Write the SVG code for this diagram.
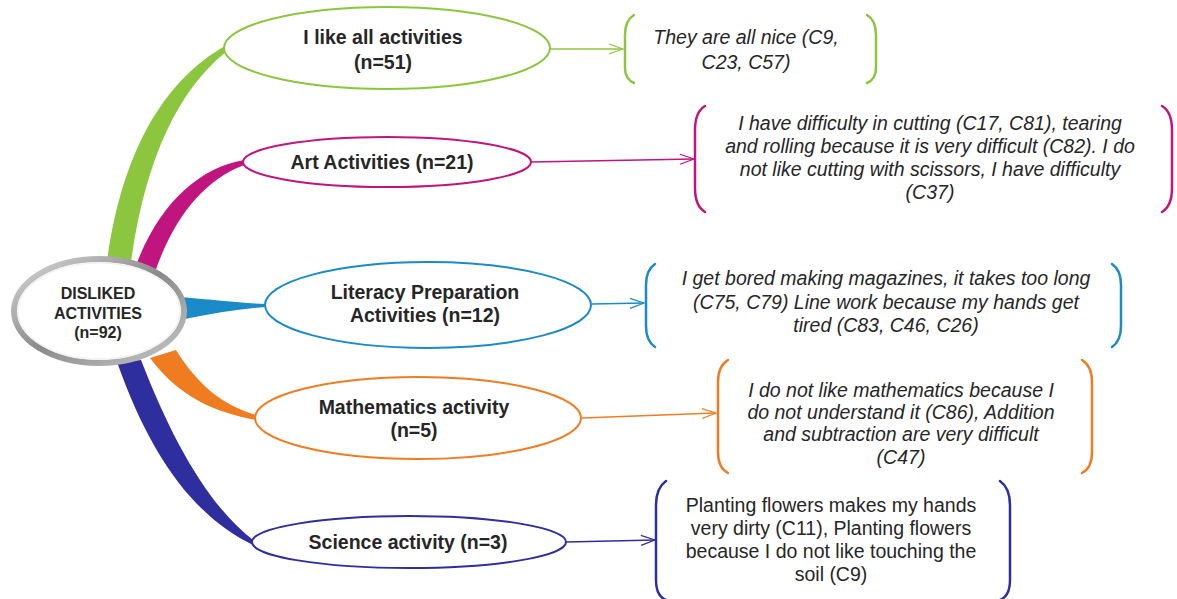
<svg xmlns="http://www.w3.org/2000/svg" width="1177" height="599" viewBox="0 0 1177 599">
<style>
.lbl{font-family:"Liberation Sans",Arial,sans-serif;font-size:19.5px;font-weight:bold;fill:#262626;text-anchor:middle}
.ctr{font-family:"Liberation Sans",Arial,sans-serif;font-size:16px;font-weight:bold;fill:#262626;text-anchor:middle}
.q{font-family:"Liberation Sans",Arial,sans-serif;font-size:19.5px;font-style:italic;fill:#262626;text-anchor:middle}
.qn{font-family:"Liberation Sans",Arial,sans-serif;font-size:19.5px;fill:#262626;text-anchor:middle}
.node{fill:#fff;stroke-width:2}
.br{fill:none;stroke-width:2.5;stroke-linecap:round}
.ar{fill:none;stroke-width:1.3}
</style>
<defs>
<linearGradient id="silver" x1="0" y1="0" x2="1" y2="1">
<stop offset="0" stop-color="#d8d8d8"/>
<stop offset="0.5" stop-color="#8a8a8a"/>
<stop offset="1" stop-color="#c8c8c8"/>
</linearGradient>
<marker id="mG" markerWidth="16" markerHeight="12" refX="15" refY="6" orient="auto" markerUnits="userSpaceOnUse"><path d="M1,1 L15,6 L1,11" fill="none" stroke="#8cc63f" stroke-width="1.3"/></marker>
<marker id="mM" markerWidth="16" markerHeight="12" refX="15" refY="6" orient="auto" markerUnits="userSpaceOnUse"><path d="M1,1 L15,6 L1,11" fill="none" stroke="#c0147f" stroke-width="1.3"/></marker>
<marker id="mB" markerWidth="16" markerHeight="12" refX="15" refY="6" orient="auto" markerUnits="userSpaceOnUse"><path d="M1,1 L15,6 L1,11" fill="none" stroke="#1b8ac8" stroke-width="1.3"/></marker>
<marker id="mO" markerWidth="16" markerHeight="12" refX="15" refY="6" orient="auto" markerUnits="userSpaceOnUse"><path d="M1,1 L15,6 L1,11" fill="none" stroke="#f07c22" stroke-width="1.3"/></marker>
<marker id="mN" markerWidth="16" markerHeight="12" refX="15" refY="6" orient="auto" markerUnits="userSpaceOnUse"><path d="M1,1 L15,6 L1,11" fill="none" stroke="#2e2e9e" stroke-width="1.3"/></marker>
</defs>
<rect width="1177" height="599" fill="#fff"/>

<g id="connectors">
<path d="M107,262 C122,150 165,80 225,46 L226,52 C178,90 145,160 131,262 Z" fill="#8cc63f"/>
<path d="M135,268 C158,205 198,168 244,160 L244,165 C205,180 175,215 155,272 Z" fill="#c0147f"/>
<path d="M180,297 C215,300 240,303 266,304 L266,307 C240,309 215,313 180,320 Z" fill="#1b8ac8"/>
<path d="M150,358 C180,398 215,412 256,420 L256,415 C222,405 198,385 176,350 Z" fill="#f07c22"/>
<path d="M117,362 C150,455 192,515 253,545 L253,540 C208,505 172,440 141,360 Z" fill="#2e2e9e"/>
<path class="ar" d="M550,49 L623,49" stroke="#8cc63f" marker-end="url(#mG)"/>
<path class="ar" d="M531,162 L694,159" stroke="#c0147f" marker-end="url(#mM)"/>
<path class="ar" d="M592,304 L644,303" stroke="#1b8ac8" marker-end="url(#mB)"/>
<path class="ar" d="M582,418 L716,413" stroke="#f07c22" marker-end="url(#mO)"/>
<path class="ar" d="M566,542 L655,540" stroke="#2e2e9e" marker-end="url(#mN)"/>
</g>

<g id="center">
<ellipse cx="99" cy="311" rx="85" ry="52" fill="#fff" stroke="url(#silver)" stroke-width="6"/>
<ellipse cx="99" cy="311" rx="81" ry="48" fill="none" stroke="#f2f2f2" stroke-width="1.5"/>
<text class="ctr" x="98" y="299">DISLIKED</text>
<text class="ctr" x="98" y="319">ACTIVITIES</text>
<text class="ctr" x="98" y="338">(n=92)</text>
</g>

<g id="n1">
<ellipse class="node" cx="387" cy="48" rx="163" ry="41" stroke="#8cc63f"/>
<text class="lbl" x="383" y="44">I like all activities</text>
<text class="lbl" x="383" y="69">(n=51)</text>
</g>
<g id="n2">
<ellipse class="node" cx="387" cy="162" rx="144" ry="25" stroke="#c0147f"/>
<text class="lbl" x="382" y="169">Art Activities (n=21)</text>
</g>
<g id="n3">
<ellipse class="node" cx="428" cy="305" rx="163" ry="43" stroke="#1b8ac8"/>
<text class="lbl" x="425" y="299">Literacy Preparation</text>
<text class="lbl" x="425" y="322">Activities (n=12)</text>
</g>
<g id="n4">
<ellipse class="node" cx="418" cy="418" rx="163" ry="41" stroke="#f07c22"/>
<text class="lbl" x="414" y="414">Mathematics activity</text>
<text class="lbl" x="414" y="437">(n=5)</text>
</g>
<g id="n5">
<ellipse class="node" cx="409" cy="542" rx="157" ry="26" stroke="#2e2e9e"/>
<text class="lbl" x="408" y="549">Science activity (n=3)</text>
</g>

<g id="q1">
<path class="br" d="M634,15 Q625,20 625,35 L625,68 Q625,79 634,83" stroke="#8cc63f"/>
<path class="br" d="M867,15 Q876,20 876,35 L876,68 Q876,79 867,83" stroke="#8cc63f"/>
<text class="q" x="746" y="44">They are all nice (C9,</text>
<text class="q" x="746" y="69">C23, C57)</text>
</g>
<g id="q2">
<path class="br" d="M705,106 Q695,112 695,130 L695,188 Q695,206 705,212" stroke="#c0147f"/>
<path class="br" d="M1162,106 Q1172,112 1172,130 L1172,188 Q1172,206 1162,212" stroke="#c0147f"/>
<text class="q" x="930" y="130">I have difficulty in cutting (C17, C81), tearing</text>
<text class="q" x="930" y="153">and rolling because it is very difficult (C82). I do</text>
<text class="q" x="930" y="176">not like cutting with scissors, I have difficulty</text>
<text class="q" x="930" y="199">(C37)</text>
</g>
<g id="q3">
<path class="br" d="M655,264 Q646,270 646,285 L646,326 Q646,341 655,347" stroke="#1b8ac8"/>
<path class="br" d="M1112,264 Q1121,270 1121,285 L1121,326 Q1121,341 1112,347" stroke="#1b8ac8"/>
<text class="q" x="886" y="285">I get bored making magazines, it takes too long</text>
<text class="q" x="886" y="309">(C75, C79) Line work because my hands get</text>
<text class="q" x="886" y="332">tired (C83, C46, C26)</text>
</g>
<g id="q4">
<path class="br" d="M728,360 Q718,366 718,382 L718,452 Q718,468 728,473" stroke="#f07c22"/>
<path class="br" d="M1082,360 Q1092,366 1092,382 L1092,452 Q1092,468 1082,473" stroke="#f07c22"/>
<text class="q" x="901" y="397">I do not like mathematics because I</text>
<text class="q" x="901" y="419">do not understand it (C86), Addition</text>
<text class="q" x="901" y="441">and subtraction are very difficult</text>
<text class="q" x="901" y="464">(C47)</text>
</g>
<g id="q5">
<path class="br" d="M666,481 Q656,488 656,505 L656,580 Q656,596 666,600" stroke="#2e2e9e"/>
<path class="br" d="M1000,481 Q1010,488 1010,505 L1010,580 Q1010,596 1000,600" stroke="#2e2e9e"/>
<text class="qn" x="831" y="512">Planting flowers makes my hands</text>
<text class="qn" x="831" y="535">very dirty (C11), Planting flowers</text>
<text class="qn" x="831" y="558">because I do not like touching the</text>
<text class="qn" x="831" y="581">soil (C9)</text>
</g>
</svg>
